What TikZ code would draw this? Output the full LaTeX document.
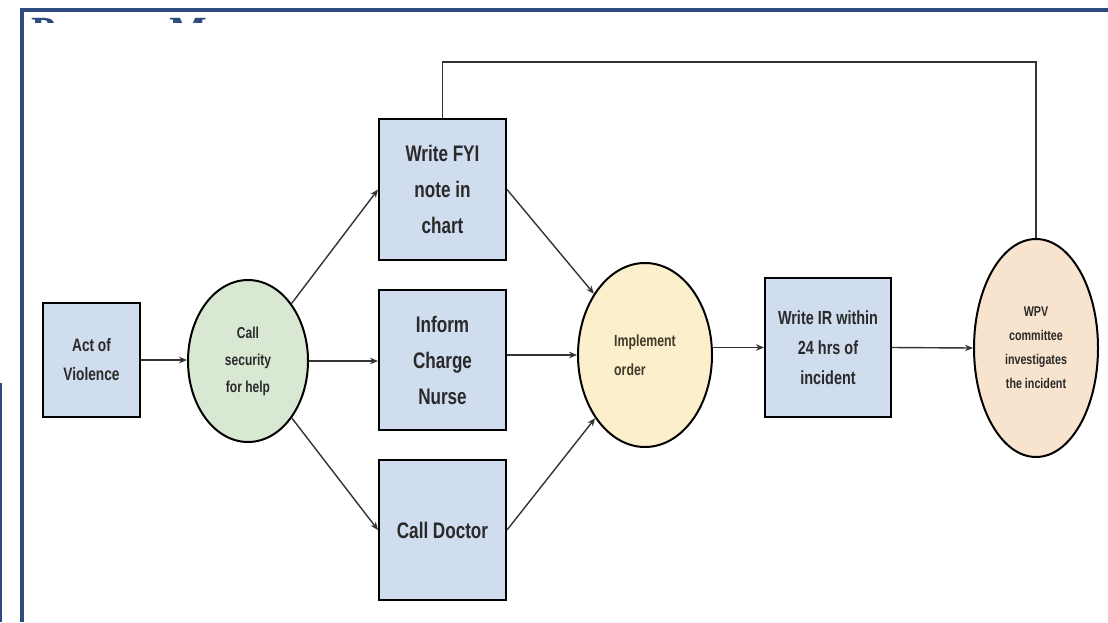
\documentclass[tikz,border=0pt]{standalone}
\usepackage{fontspec}
\setmainfont{Liberation Sans}[FakeStretch=0.76]
\newfontfamily\titlefont{Liberation Serif}
\usetikzlibrary{shapes.geometric,arrows.meta}
\definecolor{frameblue}{HTML}{2D4B7C}
\definecolor{boxblue}{HTML}{CFDDEE}
\definecolor{secgreen}{HTML}{D8E8D2}
\definecolor{implyellow}{HTML}{FCEFCC}
\definecolor{wpvpeach}{HTML}{F8E4CE}
\definecolor{txt}{HTML}{2A2A2A}
\definecolor{edgegray}{HTML}{333333}
\begin{document}
\begin{tikzpicture}[x=1pt,y=-1pt,
  box/.style={draw=black, line width=2pt, fill=boxblue, minimum width=127, minimum height=141, inner sep=0, align=center, text=txt, font=\bfseries\fontsize{22.5}{36}\selectfont},
  ell/.style={ellipse, draw=black, line width=2pt, inner sep=0, align=center, text=txt},
  arr/.style={draw=edgegray, line width=1.4pt, -{Stealth[length=8pt,width=6.5pt]}},
  fb/.style={draw=edgegray, line width=1.4pt},
  frame/.style={draw=frameblue}]
\useasboundingbox (0,0) rectangle (1108,622);
\fill[white] (0,0) rectangle (1108,622);
% frame
\draw[frame, line width=4.5pt] (1108,10) -- (22,10) -- (22,622);
\draw[frame, line width=2pt] (1,383) -- (1,622);
% clipped title
\begin{scope}
\clip (25,12.5) rectangle (1108,22.5);
\node[anchor=base west, inner sep=0, text=frameblue, font=\titlefont\bfseries\fontsize{40}{40}\selectfont] (title) at (31,44.5) {Process Map};
\end{scope}
% nodes
\node[box, minimum width=97, minimum height=114, font=\bfseries\fontsize{18}{29}\selectfont] (act) at (91.5,360) {Act of\\Violence};
\node[ell, fill=secgreen, minimum width=120, minimum height=162, font=\bfseries\fontsize{15.8}{27}\selectfont] (sec) at (248,361) {Call\\security\\for help};
\node[box] (fyi) at (442.5,189.5) {Write FYI\\note in\\chart};
\node[box, minimum height=140] (inf) at (442.5,360) {Inform\\Charge\\Nurse};
\node[box, minimum height=140] (doc) at (442.5,530) {Call Doctor};
\node[ell, fill=implyellow, minimum width=134, minimum height=184, align=left, text={rgb,255:red,64;green,58;blue,42}, font=\bfseries\fontsize{16.2}{29}\selectfont] (impl) at (645,355) {Implement\\order};
\node[box, minimum width=126, minimum height=139, font=\bfseries\fontsize{19}{30}\selectfont] (ir) at (828,347.5) {Write IR within\\24 hrs of\\incident};
\node[ell, fill=wpvpeach, minimum width=124, minimum height=218, font=\bfseries\fontsize{14.1}{24}\selectfont] (wpv) at (1036,348) {WPV\\committee\\investigates\\the incident};
% connectors
\draw[arr] (act.east) -- (act.east -| sec.west);
\draw[arr] (sec) -- (fyi.west);
\draw[arr] (sec.east) -- (inf.west |- sec.east);
\draw[arr] (sec) -- (doc.west);
\draw[arr] (fyi.east) -- (impl);
\draw[arr] (inf.east |- impl.west) -- (impl.west);
\draw[arr] (doc.east) -- (impl);
\draw[arr] (impl.east |- ir.west) -- (ir.west);
\draw[arr] (ir.east) -- (wpv.west);
\coordinate (topline) at (0,62);
\draw[fb] (wpv.north) -- (wpv.north |- topline) -- (fyi.north |- topline) -- (fyi.north);
\end{tikzpicture}
\end{document}
